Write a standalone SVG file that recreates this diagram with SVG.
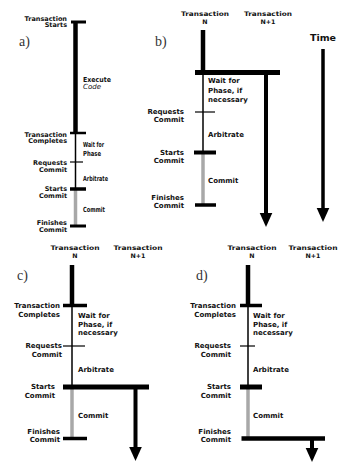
<svg xmlns="http://www.w3.org/2000/svg" xmlns:xlink="http://www.w3.org/1999/xlink" width="339" height="465" viewBox="0 0 339 465">
<style>
text{font-family:"DejaVu Sans","Liberation Sans",sans-serif;font-weight:bold;fill:#111;font-size:7px}
.sm{font-size:6.5px}
.hd{font-size:6.3px}
.r{text-anchor:end}
.c{text-anchor:middle}
.pl{font-family:"Liberation Serif",serif;font-weight:normal;font-size:14px;fill:#333}
.time{font-size:9.5px}
.it{font-style:italic;font-weight:normal}
line{stroke:#000;fill:none}
.th{stroke-width:4.5}
.tn{stroke-width:1.5}
.tk{stroke-width:1.2}
.bar{stroke-width:4}
.gr{stroke:#a8a8a8;stroke-width:3.5}
.ar{stroke-width:4}
</style>
<defs>
<path id="ah" d="M-6.3,-14 L6.3,-14 L0,0 Z" fill="#000"/>
</defs>
<rect width="339" height="465" fill="#fff"/>

<!-- Panel a -->
<g id="panel-a">
<text class="pl" x="19" y="46">a)</text>
<g id="a-timeline">
<line x1="71" y1="22" x2="86" y2="22" stroke-width="3"/>
<line class="th" x1="75.5" y1="22" x2="75.5" y2="133"/>
<line x1="70" y1="133" x2="86" y2="133" stroke-width="2.5"/>
<line class="tn" x1="75.5" y1="133" x2="75.5" y2="189"/>
<line class="tk" x1="70" y1="162" x2="83" y2="162"/>
<line class="gr" x1="75.5" y1="189" x2="75.5" y2="226"/>
<line x1="70" y1="189" x2="86" y2="189" stroke-width="3.5"/>
<line x1="70" y1="226" x2="86" y2="226" stroke-width="3"/>
</g>
<g id="a-labels">
<text class="sm r" x="67" y="20.5">Transaction</text>
<text class="sm r" x="67" y="27">Starts</text>
<text x="83" y="81.5" textLength="28" lengthAdjust="spacingAndGlyphs">Execute</text>
<text class="it" x="83" y="88.5" textLength="18" lengthAdjust="spacingAndGlyphs">Code</text>
<text class="sm r" x="67" y="136.5">Transaction</text>
<text class="sm r" x="67" y="143">Completes</text>
<text x="83" y="147" textLength="21" lengthAdjust="spacingAndGlyphs">Wait for</text>
<text x="83" y="155.5" textLength="18" lengthAdjust="spacingAndGlyphs">Phase</text>
<text class="sm r" x="67" y="164.5">Requests</text>
<text class="sm r" x="67" y="171.5">Commit</text>
<text x="83" y="180.5" textLength="25" lengthAdjust="spacingAndGlyphs">Arbitrate</text>
<text class="sm r" x="67" y="191">Starts</text>
<text class="sm r" x="67" y="198">Commit</text>
<text x="83" y="211.5" textLength="22" lengthAdjust="spacingAndGlyphs">Commit</text>
<text class="sm r" x="67" y="225">Finishes</text>
<text class="sm r" x="67" y="231.5">Commit</text>
</g>
</g>

<!-- Panel b -->
<g id="panel-b">
<text class="pl" x="155" y="46">b)</text>
<g id="b-headers">
<text class="c hd" x="205" y="16" textLength="48" lengthAdjust="spacingAndGlyphs">Transaction</text>
<text class="c hd" x="205" y="23.5">N</text>
<text class="c hd" x="268" y="16" textLength="48" lengthAdjust="spacingAndGlyphs">Transaction</text>
<text class="c hd" x="268" y="23.5">N+1</text>
<text class="c time" x="323" y="40.5">Time</text>
</g>
<g id="b-timeline">
<line class="th" x1="203" y1="30" x2="203" y2="72"/>
<line x1="195" y1="72.5" x2="280" y2="72.5" stroke-width="5"/>
<line class="tn" x1="203" y1="72" x2="203" y2="152"/>
<line class="tk" x1="195" y1="112" x2="215" y2="112"/>
<line class="gr" x1="203" y1="152" x2="203" y2="205"/>
<line class="bar" x1="194" y1="152.5" x2="216" y2="152.5"/>
<line x1="195" y1="205" x2="216" y2="205" stroke-width="3.5"/>
</g>
<g id="b-labels">
<text x="208" y="83">Wait for</text>
<text x="208" y="92.5">Phase, if</text>
<text x="208" y="101.5">necessary</text>
<text class="r" x="184" y="114">Requests</text>
<text class="r" x="184" y="122">Commit</text>
<text x="208" y="137">Arbitrate</text>
<text class="r" x="184" y="155">Starts</text>
<text class="r" x="184" y="163">Commit</text>
<text x="208" y="183">Commit</text>
<text class="r" x="184" y="200">Finishes</text>
<text class="r" x="184" y="208">Commit</text>
</g>
</g>

<!-- Panel c -->
<g id="panel-c">
<text class="pl" x="17" y="280">c)</text>
<g id="c-headers">
<text class="c hd" x="75" y="250" textLength="49" lengthAdjust="spacingAndGlyphs">Transaction</text>
<text class="c hd" x="75" y="257.5">N</text>
<text class="c hd" x="138" y="250" textLength="49" lengthAdjust="spacingAndGlyphs">Transaction</text>
<text class="c hd" x="138" y="257.5">N+1</text>
</g>
<g id="c-timeline">
<line class="th" x1="72" y1="265" x2="72" y2="306"/>
<line x1="63" y1="305.5" x2="87" y2="305.5" stroke-width="3.5"/>
<line class="tn" x1="72" y1="306" x2="72" y2="387"/>
<line class="tk" x1="63" y1="346" x2="85" y2="346"/>
<line class="gr" x1="72" y1="387" x2="72" y2="438"/>
<line x1="63" y1="387" x2="149" y2="387" stroke-width="5"/>
<line x1="63" y1="438.5" x2="87" y2="438.5" stroke-width="3.5"/>
</g>
<g id="c-labels">
<text class="r" x="60" y="308">Transaction</text>
<text class="r" x="60" y="316.5">Completes</text>
<text x="78" y="318">Wait for</text>
<text x="78" y="326.5">Phase, if</text>
<text x="78" y="335">necessary</text>
<text class="r" x="62" y="348">Requests</text>
<text class="r" x="62" y="356.5">Commit</text>
<text x="78" y="371.5">Arbitrate</text>
<text class="r" x="55" y="389">Starts</text>
<text class="r" x="55" y="397.5">Commit</text>
<text x="78" y="418">Commit</text>
<text class="r" x="60" y="434">Finishes</text>
<text class="r" x="60" y="442">Commit</text>
</g>
</g>

<!-- Panel d -->
<g id="panel-d">
<text class="pl" x="196" y="280">d)</text>
<g id="d-headers">
<text class="c hd" x="252" y="250" textLength="49" lengthAdjust="spacingAndGlyphs">Transaction</text>
<text class="c hd" x="252" y="257.5">N</text>
<text class="c hd" x="313" y="250" textLength="49" lengthAdjust="spacingAndGlyphs">Transaction</text>
<text class="c hd" x="313" y="257.5">N+1</text>
</g>
<g id="d-timeline">
<line class="th" x1="248" y1="265" x2="248" y2="306"/>
<line x1="240" y1="305.5" x2="262" y2="305.5" stroke-width="3.5"/>
<line class="tn" x1="248" y1="306" x2="248" y2="387"/>
<line class="tk" x1="240" y1="346" x2="255" y2="346"/>
<line class="gr" x1="248" y1="387" x2="248" y2="438"/>
<line x1="240" y1="387" x2="262" y2="387" stroke-width="5"/>
<line x1="241.5" y1="438.5" x2="325" y2="438.5" stroke-width="4.5"/>
</g>
<g id="d-labels">
<text class="r" x="236" y="308">Transaction</text>
<text class="r" x="236" y="316.5">Completes</text>
<text x="253" y="318">Wait for</text>
<text x="253" y="326.5">Phase, if</text>
<text x="253" y="335">necessary</text>
<text class="r" x="231" y="348">Requests</text>
<text class="r" x="231" y="356.5">Commit</text>
<text x="253" y="371.5">Arbitrate</text>
<text class="r" x="231" y="389">Starts</text>
<text class="r" x="231" y="397.5">Commit</text>
<text x="253" y="418">Commit</text>
<text class="r" x="231" y="434">Finishes</text>
<text class="r" x="231" y="442">Commit</text>
</g>
</g>

<!-- Connectors (arrows) -->
<g id="connectors">
<line class="ar" x1="266" y1="72" x2="266" y2="214"/>
<use xlink:href="#ah" x="266" y="227"/>
<line x1="323" y1="49" x2="323" y2="209" stroke-width="3.5"/>
<use xlink:href="#ah" x="323" y="222"/>
<line class="ar" x1="135.5" y1="387" x2="135.5" y2="448"/>
<use xlink:href="#ah" x="135.5" y="461"/>
<line class="ar" x1="312" y1="438" x2="312" y2="449"/>
<use xlink:href="#ah" x="312" y="462"/>
</g>
</svg>
